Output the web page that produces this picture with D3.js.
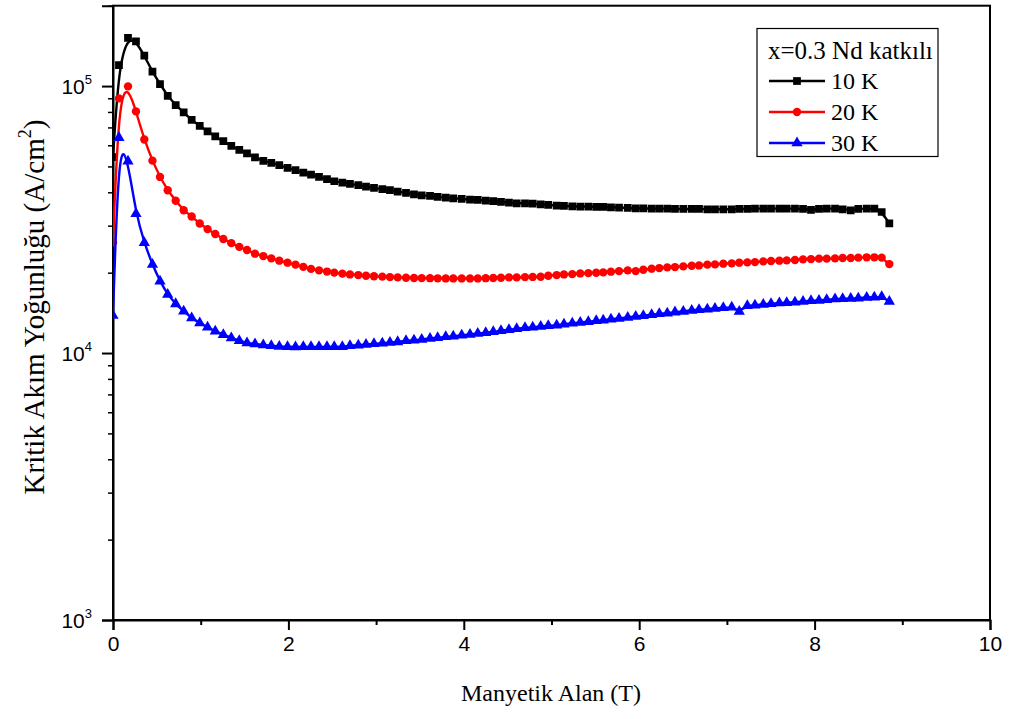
<!DOCTYPE html>
<html>
<head>
<meta charset="utf-8">
<script src="https://cdn.jsdelivr.net/npm/d3@7"></script>
<style>
  html, body { margin: 0; padding: 0; background: #fff; }
  svg { display: block; }
</style>
</head>
<body>
<svg id="chart" width="1011" height="719"></svg>
<script>
// Magnetic field (T)
const field = [0, 0.068, 0.171, 0.262, 0.357, 0.45, 0.536, 0.624, 0.715, 0.806,
  0.897, 0.989, 1.078, 1.166, 1.258, 1.349, 1.44, 1.528, 1.619, 1.714,
  1.805, 1.896, 1.99, 2.081, 2.17, 2.258, 2.349, 2.44, 2.523, 2.615,
  2.702, 2.797, 2.885, 2.976, 3.071, 3.158, 3.246, 3.341, 3.432, 3.52,
  3.615, 3.702, 3.794, 3.88, 3.976, 4.071, 4.159, 4.25, 4.336, 4.424,
  4.515, 4.603, 4.698, 4.786, 4.877, 4.963, 5.059, 5.142, 5.237, 5.328,
  5.42, 5.51, 5.59, 5.678, 5.77, 5.869, 5.96, 6.047, 6.142, 6.229,
  6.32, 6.408, 6.503, 6.599, 6.682, 6.777, 6.864, 6.959, 7.055, 7.141,
  7.233, 7.32, 7.415, 7.503, 7.598, 7.682, 7.776, 7.868, 7.959, 8.05,
  8.138, 8.233, 8.32, 8.412, 8.498, 8.594, 8.681, 8.765, 8.852];

// Critical current density (A/cm^2)
const jc10K = [54150, 119900, 151400, 147100, 129900, 113200, 101700, 91960, 84870, 79660,
  74720, 70960, 67610, 64760, 62170, 59700, 57680, 55920, 54020, 52450,
  51550, 50540, 49370, 48400, 47350, 46550, 45670, 44770, 44000, 43510,
  42990, 42510, 42030, 41530, 41070, 40720, 40260, 39780, 39330, 38990,
  38760, 38420, 38230, 37990, 37770, 37580, 37450, 37250, 37030, 36810,
  36610, 36390, 36390, 36300, 36070, 35860, 35670, 35550, 35460, 35370,
  35370, 35250, 35250, 35160, 35060, 34940, 34850, 34850, 34760, 34760,
  34760, 34640, 34640, 34640, 34640, 34550, 34550, 34550, 34550, 34640,
  34640, 34760, 34760, 34760, 34760, 34760, 34760, 34640, 34340, 34640,
  34760, 34760, 34550, 34250, 34640, 34760, 34760, 33750, 30610];

const jc20K = [25980, 89900, 99750, 80360, 63100, 52550, 45670, 40720, 37190, 34250,
  32460, 30560, 29120, 27920, 26730, 25800, 24990, 24310, 23560, 23080,
  22630, 22180, 21800, 21430, 21020, 20660, 20400, 20190, 20010, 19840,
  19700, 19590, 19480, 19400, 19330, 19250, 19200, 19150, 19100, 19080,
  19070, 19050, 19030, 19030, 19030, 19030, 19030, 19070, 19110, 19150,
  19200, 19200, 19250, 19280, 19310, 19480, 19590, 19700, 19750, 19870,
  19920, 19990, 20050, 20170, 20270, 20400, 20270, 20520, 20700, 20810,
  20930, 20990, 21110, 21240, 21290, 21430, 21480, 21610, 21670, 21800,
  21860, 21910, 22040, 22110, 22180, 22240, 22300, 22430, 22490, 22570,
  22570, 22630, 22690, 22690, 22770, 22830, 22830, 22770, 21540];

const jc30K = [13830, 64100, 52300, 33230, 25870, 21450, 18580, 16550, 15280, 14340,
  13530, 12960, 12490, 12060, 11710, 11380, 11120, 10900, 10810, 10720,
  10650, 10580, 10550, 10530, 10550, 10550, 10550, 10550, 10550, 10550,
  10640, 10700, 10760, 10830, 10880, 10950, 11010, 11110, 11170, 11240,
  11340, 11400, 11500, 11560, 11660, 11730, 11840, 11900, 12010, 12110,
  12220, 12320, 12430, 12490, 12570, 12650, 12710, 12820, 12930, 13010,
  13090, 13200, 13270, 13390, 13470, 13590, 13710, 13790, 13910, 14030,
  14100, 14230, 14310, 14440, 14530, 14600, 14690, 14780, 14850, 14310,
  15030, 15110, 15210, 15300, 15380, 15430, 15510, 15610, 15700, 15740,
  15840, 15920, 15970, 16010, 16050, 16150, 16190, 16250, 15610];

const seriesNames = ["10 K", "20 K", "30 K"];
const seriesColors = ["#000000", "#ff0000", "#0000ff"];
const seriesSymbols = ["square", "circle", "triangle"];
const legendTitle = "x=0.3 Nd katkılı";
const xTicks = [0, 2, 4, 6, 8, 10];
const xMinorTicks = [1, 3, 5, 7, 9];
const yDecades = [1e3, 1e4, 1e5];
const xTitle = "Manyetik Alan (T)";
const yTitle = "Kritik Akım Yoğunluğu (A/cm";

const seriesData = [jc10K, jc20K, jc30K].map((vals, i) => ({
  name: seriesNames[i], color: seriesColors[i], symbol: seriesSymbols[i],
  values: field.map((f, j) => ({ x: f, y: vals[j] }))
}));

const tickFont = "'Liberation Sans Narrow', 'Arial Narrow', 'Liberation Sans', Arial, sans-serif";
const serif = "'Liberation Serif', 'Times New Roman', serif";

const svg = d3.select("#chart");
const L = 113, R = 990, T = 5.7, B = 620;

const x = d3.scaleLinear().domain([0, 10]).range([L, R]);
const y = d3.scaleLog().domain([1e3, 2e5]).range([B, T]);

// frame
svg.append("rect").attr("x", L).attr("y", T).attr("width", R - L).attr("height", B - T)
  .attr("fill", "none").attr("stroke", "#000").attr("stroke-width", 2);

// X axis
const xAxis = d3.axisBottom(x).tickValues(xTicks).tickSize(10).tickPadding(6).tickFormat(d3.format("d"));
const gx = svg.append("g").attr("transform", `translate(0,${B})`).call(xAxis);
gx.select(".domain").attr("stroke-width", 2);
gx.selectAll(".tick line").attr("stroke-width", 2);
gx.selectAll(".tick text").attr("font-family", tickFont).attr("font-size", 21).attr("fill", "#000");
const gxm = svg.append("g").attr("transform", `translate(0,${B})`)
  .call(d3.axisBottom(x).tickValues(xMinorTicks).tickSize(5).tickFormat(""));
gxm.select(".domain").remove();
gxm.selectAll(".tick line").attr("stroke-width", 2);

// Y axis
const yMinor = [];
[1e3, 1e4, 1e5].forEach(d => { for (let k = 2; k <= 9; k++) { const v = d * k; if (v <= 2e5) yMinor.push(v); } });
const gy = svg.append("g").attr("transform", `translate(${L},0)`)
  .call(d3.axisLeft(y).tickValues(yDecades).tickSize(11).tickFormat(""));
gy.select(".domain").attr("stroke-width", 2);
gy.selectAll(".tick line").attr("stroke-width", 2);
const gym = svg.append("g").attr("transform", `translate(${L},0)`)
  .call(d3.axisLeft(y).tickValues(yMinor).tickSize(5).tickFormat(""));
gym.select(".domain").remove();
gym.selectAll(".tick line").attr("stroke-width", 1.5);

// Y decade labels with superscripts
yDecades.forEach(d => {
  const t = svg.append("text").attr("x", 92).attr("y", y(d) + 8)
    .attr("text-anchor", "end").attr("font-family", tickFont)
    .attr("font-size", 21).attr("fill", "#000");
  t.append("tspan").text("10");
  t.append("tspan").attr("dy", -10).attr("font-size", 13).text(Math.round(Math.log10(d)));
});

// Titles
svg.append("text").attr("x", 551).attr("y", 701).attr("text-anchor", "middle")
  .attr("font-family", serif).attr("font-size", 24).attr("fill", "#000")
  .text(xTitle);
const yt = svg.append("text").attr("transform", `translate(44,307) rotate(-90)`)
  .attr("text-anchor", "middle").attr("font-family", serif)
  .attr("font-size", 29).attr("fill", "#000");
yt.append("tspan").text(yTitle);
yt.append("tspan").attr("dy", -13).attr("font-size", 18).text("2");
yt.append("tspan").attr("dy", 13).text(")");

// Series
const line = d3.line().x(d => x(d.x)).y(d => y(d.y)).curve(d3.curveBasis);
const symType = { square: d3.symbolSquare, circle: d3.symbolCircle, triangle: d3.symbolTriangle };
const symSize = { square: 60, circle: 55, triangle: 55 };
svg.append("clipPath").attr("id", "clip").append("rect")
  .attr("x", L).attr("y", T).attr("width", R - L).attr("height", B - T);
const plot = svg.append("g").attr("clip-path", "url(#clip)");
seriesData.forEach(s => {
  plot.append("path").datum(s.values).attr("d", line).attr("fill", "none")
    .attr("stroke", s.color).attr("stroke-width", 2.4);
  plot.selectAll(null).data(s.values).enter().append("path")
    .attr("transform", d => `translate(${x(d.x)},${y(d.y)})`)
    .attr("d", d3.symbol().type(symType[s.symbol]).size(symSize[s.symbol]))
    .attr("fill", s.color);
});

// Legend
const lg = svg.append("g");
lg.append("rect").attr("x", 757).attr("y", 28.5).attr("width", 181).attr("height", 128)
  .attr("fill", "#fff").attr("stroke", "#000").attr("stroke-width", 1.2);
lg.append("text").attr("x", 768).attr("y", 59).attr("font-family", serif)
  .attr("font-size", 25).attr("fill", "#000").text(legendTitle);
seriesData.forEach((s, i) => {
  const cy = 81 + i * 31;
  lg.append("line").attr("x1", 769).attr("x2", 825).attr("y1", cy).attr("y2", cy)
    .attr("stroke", s.color).attr("stroke-width", 2.4);
  lg.append("path").attr("transform", `translate(797,${cy})`)
    .attr("d", d3.symbol().type(symType[s.symbol]).size(symSize[s.symbol])).attr("fill", s.color);
  lg.append("text").attr("x", 831).attr("y", cy + 8).attr("font-family", serif)
    .attr("font-size", 24).attr("fill", "#000").text(s.name);
});
</script>
</body>
</html>
